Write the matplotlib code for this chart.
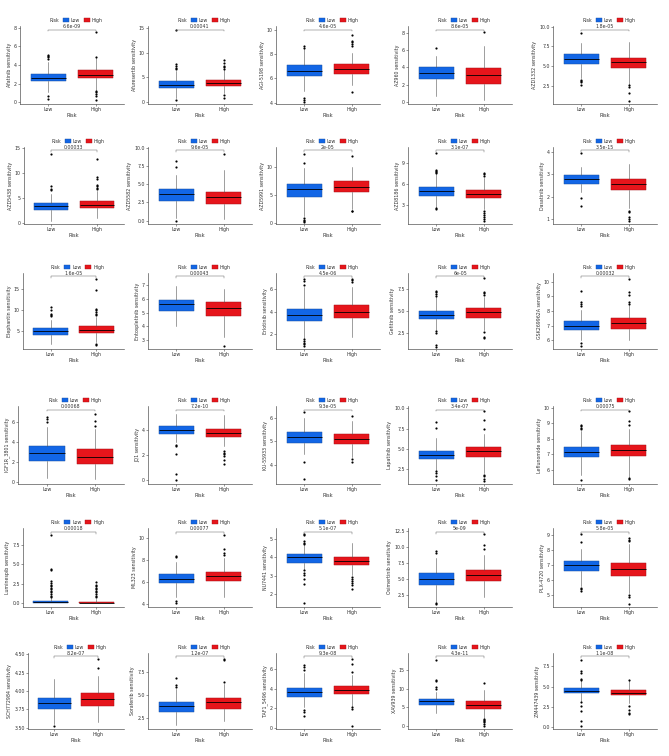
import matplotlib
matplotlib.use("Agg")
import matplotlib.pyplot as plt
from matplotlib.patches import Patch
import numpy as np

# ---------------- data ----------------
drugs = ["Afatinib", "Afuresertib", "AGI-5198", "AZ960", "AZD1332",
         "AZD5438", "AZD5582", "AZD5991", "AZD8186", "Dasatinib",
         "Elephantin", "Entospletinib", "Erlotinib", "Gefitinib", "GSK269962A",
         "IGF1R_3801", "JQ1", "KU-55933", "Lapatinib", "Leflunomide",
         "Luminespib", "ML323", "NU7441", "Osimertinib", "PLX-4720",
         "SCH772984", "Sorafenib", "TAF1_5496", "XAV939", "ZM447439"]

pvals = ["6.6e-09", "0.00041", "4.6e-05", "8.6e-05", "1.8e-05",
         "0.00033", "9.6e-05", "2e-05", "3.1e-07", "3.5e-15",
         "1.6e-05", "0.00043", "4.5e-06", "6e-05", "0.00032",
         "0.00068", "7.2e-10", "9.3e-05", "3.4e-07", "0.00075",
         "0.00018", "0.00077", "5.1e-07", "5e-09", "5.8e-05",
         "8.2e-07", "1.2e-07", "9.3e-08", "4.3e-11", "1.1e-08"]

groups = ["Low", "High"]

# [whislo, q1, median, q3, whishi]
low_q = [[1.1, 2.25, 2.65, 3.05, 4.3], [0.9, 2.8, 3.4, 4.25, 6.2], [5.0, 6.17, 6.64, 7.06, 8.4],
         [0.76, 2.68, 3.4, 4.08, 5.3], [3.5, 5.3, 5.9, 6.6, 7.9],
         [0.3, 2.5, 3.25, 3.9, 5.7], [0.35, 2.68, 3.66, 4.4, 6.2], [1.3, 4.64, 6.07, 6.96, 9.8],
         [2.6, 4.33, 5.0, 5.57, 7.4], [2.2, 2.57, 2.78, 2.95, 3.3],
         [1.7, 3.97, 4.9, 5.5, 7.5], [4.05, 5.1, 5.6, 5.95, 6.95], [1.7, 3.13, 3.67, 4.2, 6.15],
         [2.8, 4.1, 4.6, 5.0, 6.6], [6.05, 6.7, 7.0, 7.3, 8.1],
         [0.43, 2.1, 2.9, 3.6, 5.5], [3.0, 3.7, 4.0, 4.3, 5.25], [4.45, 4.94, 5.18, 5.41, 6.0],
         [2.33, 3.7, 4.2, 4.75, 6.3], [5.67, 6.83, 7.13, 7.45, 8.5],
         [0.0, 0.0, 0.17, 0.3, 0.7], [4.68, 5.9, 6.3, 6.74, 7.85], [3.35, 3.72, 4.0, 4.17, 4.7],
         [1.55, 4.2, 5.1, 6.0, 8.3], [5.6, 6.6, 7.0, 7.3, 8.1],
         [3.55, 3.76, 3.84, 3.91, 4.16], [1.7, 3.1, 3.74, 4.17, 5.6], [2.17, 3.17, 3.67, 4.07, 5.57],
         [3.5, 5.5, 6.6, 7.3, 9.2], [3.17, 4.17, 4.48, 4.76, 5.75]]

high_q = [[1.35, 2.55, 2.95, 3.45, 4.75], [1.8, 3.2, 3.85, 4.5, 6.4], [5.5, 6.4, 6.8, 7.2, 8.1],
          [0.28, 2.1, 3.08, 3.9, 6.4], [2.8, 4.75, 5.55, 6.1, 8.1],
          [1.0, 2.9, 3.6, 4.3, 6.3], [0.22, 2.28, 3.2, 4.0, 7.0], [2.4, 5.48, 6.5, 7.56, 10.1],
          [2.4, 3.95, 4.5, 5.1, 6.8], [1.5, 2.27, 2.57, 2.78, 3.43],
          [2.2, 4.3, 5.2, 6.0, 8.2], [3.2, 4.75, 5.35, 5.8, 6.7], [1.8, 3.4, 3.97, 4.6, 6.2],
          [2.8, 4.26, 4.9, 5.3, 6.6], [6.05, 6.75, 7.15, 7.5, 8.4],
          [0.26, 1.85, 2.55, 3.27, 5.3], [2.75, 3.43, 3.75, 4.05, 5.15], [4.35, 4.9, 5.1, 5.3, 5.86],
          [2.0, 3.97, 4.65, 5.2, 6.8], [5.55, 6.9, 7.26, 7.63, 8.6],
          [0.0, 0.0, 0.1, 0.22, 0.6], [4.68, 6.1, 6.55, 6.95, 8.2], [3.05, 3.6, 3.83, 4.0, 4.8],
          [2.2, 4.7, 5.7, 6.5, 8.85], [5.15, 6.3, 6.77, 7.15, 8.45],
          [3.58, 3.79, 3.89, 3.97, 4.21], [2.2, 3.46, 4.17, 4.63, 6.2], [2.23, 3.43, 3.83, 4.23, 5.33],
          [2.2, 4.65, 5.7, 6.6, 9.6], [2.98, 3.93, 4.25, 4.56, 5.75]]

low_out = [[0.35, 0.65, 4.6, 4.85, 5.0, 5.1], [0.5, 6.6, 6.9, 7.2, 7.8, 14.5], [4.05, 4.2, 4.4, 8.5, 8.7],
           [6.2], [2.6, 2.95, 3.1, 3.3, 9.2],
           [6.5, 6.7, 7.4, 13.8], [0.0, 7.3, 8.2], [0.1, 0.3, 0.6, 0.9, 10.7, 12.4],
           [2.4, 2.5, 7.5, 7.7, 7.86, 8.0, 10.4], [1.6, 1.95, 3.95],
           [8.4, 8.6, 9.0, 10.0, 10.6], [], [0.95, 1.1, 1.25, 1.4, 1.6, 6.3, 6.7, 6.85],
           [0.9, 1.1, 2.55, 2.7, 6.7, 6.9, 7.1, 7.3], [5.6, 5.8, 8.35, 8.45, 8.6, 9.4],
           [6.05, 6.3, 6.5], [0.0, 0.5, 2.1, 2.75, 2.8], [3.4, 4.15, 6.25],
           [1.1, 1.6, 2.0, 2.2, 7.6, 8.3], [5.35, 8.6, 8.7, 8.8, 8.9],
           [0.8, 1.0, 1.2, 1.4, 1.6, 1.8, 2.0, 2.2, 2.4, 2.6, 2.9, 4.2, 4.4, 8.7],
           [4.15, 4.3, 8.3, 8.4], [1.5, 2.55, 2.8, 3.05, 3.15, 3.3, 4.75, 4.8, 4.9, 5.2, 5.3],
           [1.2, 1.4, 9.1, 9.35], [5.25, 5.4, 5.5, 8.55, 9.1],
           [3.52], [5.8, 6.1, 6.85], [1.17, 1.67, 1.83, 5.9, 6.23, 6.4],
           [10.0, 10.4, 12.0, 12.3, 17.8], [0.12, 0.8, 2.06, 2.58, 3.05, 5.83, 5.95, 6.63, 6.87, 8.2]]

high_out = [[0.2, 0.7, 0.85, 1.05, 1.2, 4.85, 7.6], [0.9, 1.4, 6.7, 7.0, 7.2, 8.0, 8.5],
            [4.9, 8.65, 8.85, 9.0, 9.1, 9.55], [8.1], [0.6, 1.6, 2.4, 2.6],
            [6.7, 7.0, 7.3, 7.5, 8.8, 9.3, 12.9], [9.2], [2.1, 2.2, 11.9],
            [0.6, 0.95, 1.3, 1.6, 1.8, 2.05, 7.2, 7.4, 7.6], [0.93, 1.0, 1.07, 1.3, 1.37],
            [1.5, 1.9, 8.6, 9.0, 9.4, 9.8, 10.2, 14.6, 17.3], [2.55], [6.6, 6.75, 6.9],
            [1.9, 2.1, 2.6, 6.8, 7.0, 7.2, 8.7], [8.5, 8.6, 9.1, 9.3, 10.2],
            [5.65, 6.1, 6.8], [1.3, 1.6, 1.9, 2.1, 2.2, 2.3], [4.15, 4.25, 6.07],
            [1.0, 1.25, 1.55, 1.75, 7.4, 8.5, 9.7], [5.45, 5.5, 8.87, 9.15, 9.8],
            [0.8, 1.0, 1.2, 1.4, 1.6, 1.8, 2.0, 2.2, 2.4, 2.7],
            [8.46, 8.6, 9.0, 10.3], [2.3, 2.5, 2.6, 2.7, 2.8, 2.95],
            [9.8, 10.35, 12.1], [4.4, 4.9, 5.0, 8.6, 8.7, 8.85],
            [4.32, 4.44], [6.4, 8.75, 8.9], [0.23, 1.93, 2.1, 5.67, 6.5, 7.0],
            [-0.2, 0.5, 1.0, 1.3, 1.6, 1.9, 11.7], [1.59, 1.79, 2.18, 2.58, 5.83]]

y_limits = [(-0.2, 8.2), (-0.4, 15.4), (3.9, 10.3), (-0.2, 8.75), (0.2, 10.1),
            (-0.3, 15.3), (-0.45, 10.1), (-0.2, 13.6), (0.24, 11.3), (0.78, 4.2),
            (0.6, 18.7), (2.35, 7.9), (0.7, 7.4), (0.7, 9.3), (5.4, 10.6),
            (-0.2, 7.6), (-0.3, 5.9), (3.2, 6.5), (0.6, 10.3), (5.1, 10.1),
            (-0.45, 9.6), (3.75, 10.9), (1.3, 5.6), (0.7, 13.0), (4.2, 9.5),
            (3.48, 4.52), (1.3, 9.5), (-0.1, 7.6), (-0.9, 19.7), (-0.2, 9.1)]

ytick_labels = [["0", "2", "4", "6", "8"], ["0", "5", "10", "15"], ["4", "6", "8", "10"],
                ["0", "2", "4", "6", "8"], ["2.5", "5.0", "7.5", "10.0"],
                ["0", "5", "10", "15"], ["0.0", "2.5", "5.0", "7.5", "10.0"], ["0", "5", "10"],
                ["3", "6", "9"], ["1", "2", "3", "4"],
                ["5", "10", "15"], ["3", "4", "5", "6", "7"], ["2", "4", "6"],
                ["2.5", "5.0", "7.5"], ["6", "7", "8", "9", "10"],
                ["0", "2", "4", "6"], ["0", "2", "4"], ["4", "5", "6"],
                ["2.5", "5.0", "7.5", "10.0"], ["6", "7", "8", "9", "10"],
                ["0.0", "2.5", "5.0", "7.5"], ["4", "6", "8", "10"], ["2", "3", "4", "5"],
                ["2.5", "5.0", "7.5", "10.0", "12.5"], ["5", "6", "7", "8", "9"],
                ["3.50", "3.75", "4.00", "4.25", "4.50"], ["2.5", "5.0", "7.5"], ["0", "2", "4", "6"],
                ["0", "5", "10", "15"], ["0.0", "2.5", "5.0", "7.5"]]

# ---------------- style / layout ----------------
W, H = 669, 756
fill_cols = {"Low": "#1266E6", "High": "#E6151B"}
edge_cols = {"Low": "#1A4FA0", "High": "#A81015"}
col_left = [20, 148, 276, 408, 553]
col1_left_by_row = [20, 24, 23, 18, 23, 28]
ax_w = 104
row_top = [26, 147, 273, 406, 528, 653]
row_bot = [104, 224, 349, 484, 607, 729]
fs = 3.4

fig = plt.figure(figsize=(W / 100, H / 100), dpi=100)
fig.patch.set_facecolor("white")

for i, drug in enumerate(drugs):
    r, c = divmod(i, 5)
    if c == 0:
        lpx = col1_left_by_row[r]
        wpx = 124 - lpx
    else:
        lpx = col_left[c]
        wpx = ax_w
    bottom = 1 - row_bot[r] / H
    height = (row_bot[r] - row_top[r]) / H
    ax = fig.add_axes([lpx / W, bottom, wpx / W, height])

    stats = []
    for q, out in ((low_q[i], low_out[i]), (high_q[i], high_out[i])):
        stats.append(dict(whislo=q[0], q1=q[1], med=q[2], q3=q[3], whishi=q[4], fliers=out))
    bp = ax.bxp(stats, positions=[1, 2], widths=0.75, patch_artist=True,
                showcaps=False,
                medianprops=dict(color="black", linewidth=0.6),
                whiskerprops=dict(color="#555555", linewidth=0.4),
                flierprops=dict(marker="o", markersize=1.3, markerfacecolor="black",
                                markeredgecolor="black", markeredgewidth=0.2))
    for patch, g in zip(bp["boxes"], groups):
        patch.set_facecolor(fill_cols[g])
        patch.set_edgecolor(edge_cols[g])
        patch.set_linewidth(0.35)

    ax.set_xlim(0.4, 2.6)
    ax.set_ylim(*y_limits[i])
    ax.set_yticks([float(t) for t in ytick_labels[i]])
    ax.set_yticklabels(ytick_labels[i])
    ax.set_xticks([1, 2])
    ax.set_xticklabels(groups)
    ax.tick_params(axis="both", labelsize=fs, length=1.2, width=0.4, pad=1,
                   color="#444444", labelcolor="#333333")
    for s in ("top", "right"):
        ax.spines[s].set_visible(False)
    for s in ("left", "bottom"):
        ax.spines[s].set_linewidth(0.45)
        ax.spines[s].set_color("#444444")
    ax.set_ylabel(f"{drug} sensitivity", fontsize=fs, labelpad=1.5, color="#333333")
    ax.set_xlabel("Risk", fontsize=fs + 0.3, labelpad=0.8, color="#333333")

    # significance bracket
    tr = ax.get_xaxis_transform()
    yb = 0.955
    ax.plot([1, 1, 2, 2], [yb - 0.025, yb, yb, yb - 0.025], transform=tr,
            color="#666666", linewidth=0.35, clip_on=False)
    ax.text(1.5, yb + 0.012, pvals[i], transform=tr, ha="center", va="bottom",
            fontsize=fs, color="#333333")

    # legend
    handles = [Patch(facecolor="none", edgecolor="none"),
               Patch(facecolor=fill_cols["Low"], edgecolor=edge_cols["Low"], linewidth=0.3),
               Patch(facecolor=fill_cols["High"], edgecolor=edge_cols["High"], linewidth=0.3)]
    leg = ax.legend(handles, ["Risk", "Low", "High"], ncol=3, loc="lower center",
                    bbox_to_anchor=(0.5, 1.04), frameon=False, fontsize=fs,
                    handlelength=1.3, handleheight=0.9, handletextpad=0.4,
                    columnspacing=0.8, borderpad=0, borderaxespad=0)
    leg.legend_handles[0].set_width(0)
    for t in leg.get_texts():
        t.set_color("#333333")

fig.savefig("out.png", dpi=100, facecolor="white")
